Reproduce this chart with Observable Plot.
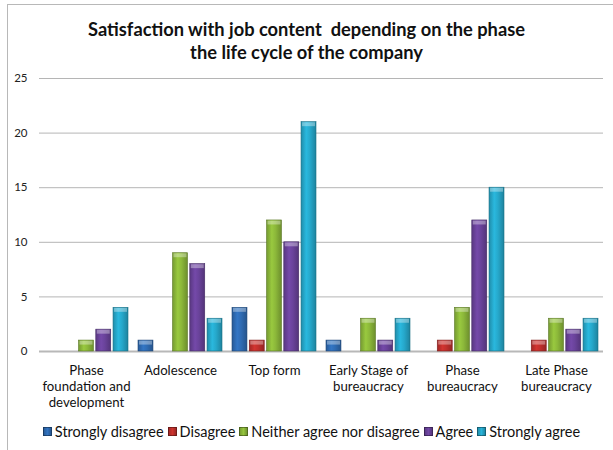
<!DOCTYPE html>
<html>
<head>
<meta charset="utf-8">
<script src="https://cdn.jsdelivr.net/npm/d3@7"></script>
<script src="https://cdn.jsdelivr.net/npm/@observablehq/plot@0.6"></script>
<style>
  html, body { margin: 0; padding: 0; background: #fff; }
  body { width: 613px; height: 450px; overflow: hidden; position: relative; font-family: Lato, "Open Sans", sans-serif; }
  #frame { position: absolute; left: 7px; top: 4px; width: 640px; height: 480px; border-left: 1.5px solid #b8b8b8; border-top: 1.5px solid #b8b8b8; }
  #title { position: absolute; left: 0; top: 18px; width: 613px; text-align: center; font-weight: bold; font-size: 18.3px; line-height: 23px; color: #111; }
  #chart { position: absolute; left: 0; top: 60px; }
  #legend { position: absolute; left: 0; top: 423px; width: 613px; display: flex; justify-content: center; font-size: 14.5px; color: #111; padding-left: 14px; box-sizing: border-box; }
  #legend .item { display: flex; align-items: center; margin-right: 4px; }
  #legend .sw { width: 9px; height: 9px; margin-right: 3px; border: 0.5px solid rgba(0,0,0,0.35); box-sizing: border-box; }
</style>
</head>
<body>
<div id="frame"></div>
<div id="title">Satisfaction with job content&nbsp; depending on the phase<br>the life cycle of the company</div>
<div id="chart"></div>
<div id="legend"></div>
<script>
const categories = [
  "Phase\nfoundation and\ndevelopment",
  "Adolescence",
  "Top form",
  "Early Stage of\nbureaucracy",
  "Phase\nbureaucracy",
  "Late Phase\nbureaucracy"
];
const series = ["Strongly disagree", "Disagree", "Neither agree nor disagree", "Agree", "Strongly agree"];
const stronglyDisagree = [0, 1, 4, 1, 0, 0];
const disagree         = [0, 0, 1, 0, 1, 1];
const neither          = [1, 9, 12, 3, 4, 3];
const agree            = [2, 8, 10, 1, 12, 2];
const stronglyAgree    = [4, 3, 21, 3, 15, 3];
const yTicks = [0, 5, 10, 15, 20, 25];

const colors = ["#2f6cb4", "#c0302c", "#8cb83a", "#6a439b", "#26a8cb"];
const seriesValues = [stronglyDisagree, disagree, neither, agree, stronglyAgree];

const data = [];
series.forEach((s, i) => categories.forEach((c, j) => data.push({category: c, series: s, si: i, value: seriesValues[i][j]})));

const width = 613, height = 340;
const marginLeft = 39, marginRight = 10;
const padInner = 0.106, padOuter = 0.053;
const step = (width - marginLeft - marginRight) / (categories.length - padInner + 2 * padOuter);
const bw = step * (1 - padInner);
const barW = 15;
const barStep = (bw - barW) / (series.length - 1);

const marks = [
  Plot.gridY(yTicks, {stroke: "#b5b5b5", strokeOpacity: 1, strokeWidth: 1}),
  Plot.ruleY([0], {stroke: "#b8b8b8", strokeWidth: 2.2}),
];
series.forEach((s, i) => {
  const d = data.filter(r => r.si === i && r.value > 0);
  const insetLeft = i * barStep;
  const insetRight = bw - insetLeft - barW;
  marks.push(Plot.barY(d, {
    x: "category", y: "value", fill: `url(#grad${i})`,
    stroke: d3.color(colors[i]).darker(1.2).formatHex(), strokeWidth: 0.6,
    insetLeft, insetRight
  }));
  // bevel cap highlight at the top of each bar
  marks.push(Plot.barY(d, {
    x: "category", y1: "value", y2: "value", fill: "#ffffff", fillOpacity: 0.35,
    insetLeft: insetLeft + 1, insetRight: insetRight + 1, insetTop: 0.6, insetBottom: -4.5
  }));
});

const chart = Plot.plot({
  width, height,
  marginLeft, marginRight, marginTop: 18, marginBottom: 49,
  style: {fontFamily: "Lato, 'Open Sans', sans-serif", background: "transparent", overflow: "visible"},
  x: {domain: categories, paddingInner: padInner, paddingOuter: padOuter, label: null},
  y: {domain: [0, 25], label: null},
  marks: [
    ...marks,
    Plot.axisY(yTicks, {tickSize: 0, tickPadding: 12, fontSize: 11.5, fill: "#222", label: null}),
    Plot.axisX({tickSize: 0, tickPadding: 12, fontSize: 13.2, fill: "#111", lineHeight: 1.22, label: null})
  ]
});

// gradients for cylinder-like shading
const svgNS = "http://www.w3.org/2000/svg";
const defs = document.createElementNS(svgNS, "defs");
colors.forEach((c, i) => {
  const g = document.createElementNS(svgNS, "linearGradient");
  g.setAttribute("id", `grad${i}`);
  g.setAttribute("x1", "0"); g.setAttribute("x2", "1"); g.setAttribute("y1", "0"); g.setAttribute("y2", "0");
  const base = d3.color(c);
  [[0, base.darker(0.5)], [0.35, base.brighter(0.25)], [0.6, base], [1, base.darker(0.7)]].forEach(([o, col]) => {
    const st = document.createElementNS(svgNS, "stop");
    st.setAttribute("offset", o);
    st.setAttribute("stop-color", col.formatHex());
    g.appendChild(st);
  });
  defs.appendChild(g);
});
chart.insertBefore(defs, chart.firstChild);
document.getElementById("chart").appendChild(chart);

const legend = document.getElementById("legend");
series.forEach((s, i) => {
  const it = document.createElement("div");
  it.className = "item";
  const sw = document.createElement("div");
  sw.className = "sw";
  const base = d3.color(colors[i]);
  sw.style.background = `linear-gradient(to right, ${base.darker(0.4)}, ${base.brighter(0.2)}, ${base.darker(0.6)})`;
  const t = document.createElement("span");
  t.textContent = s;
  it.appendChild(sw); it.appendChild(t);
  legend.appendChild(it);
});
</script>
</body>
</html>
